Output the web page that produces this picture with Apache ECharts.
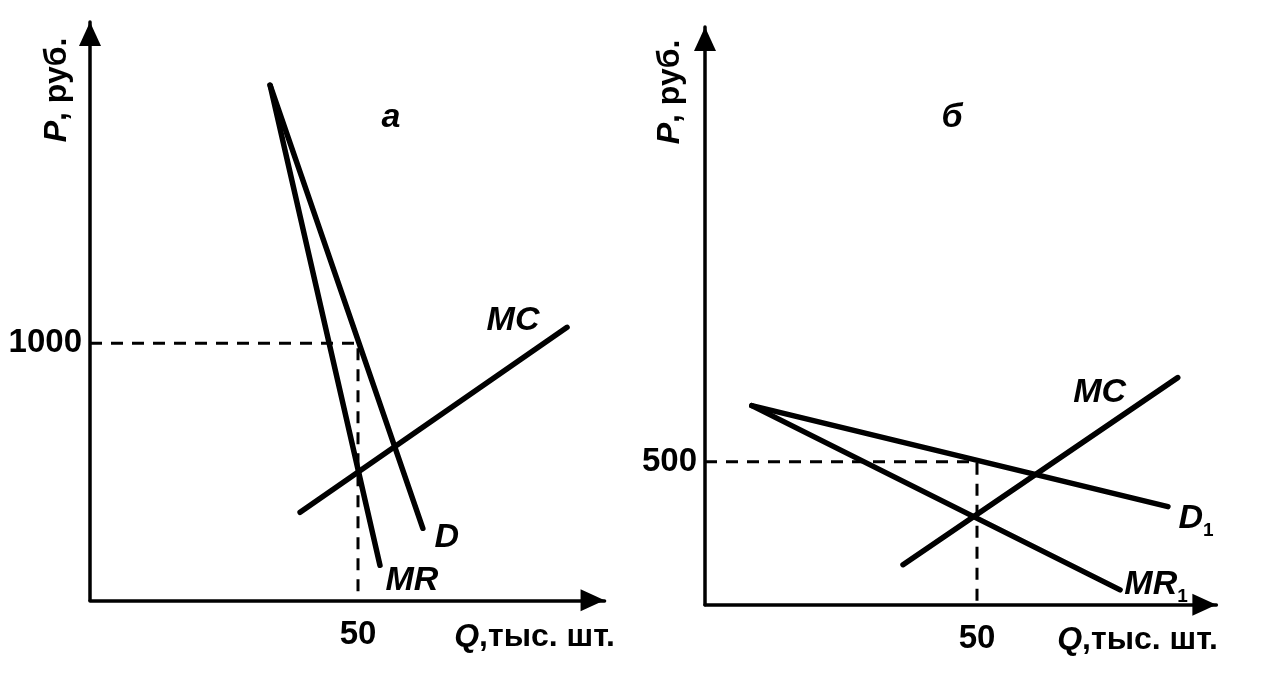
<!DOCTYPE html>
<html>
<head>
<meta charset="utf-8">
<script src="https://cdn.jsdelivr.net/npm/echarts@6/dist/echarts.min.js"></script>
<style>html,body{margin:0;padding:0;background:#fff;}#c{width:1287px;height:693px;}</style>
</head>
<body>
<div id="c"></div>
<script>
// ---- Panel a ----
const demandA = [[33.6, 2004], [62.1, 280]];
const mrA = [[33.6, 2004], [54.1, 136]];
const mcA = [[39.2, 342], [89.0, 1062]];
const guideA = [[0, 1000], [50, 1000], [50, 0]];
const xTickA = 50, yTickA = 1000;
// ---- Panel б ----
const demandB = [[8.6, 696], [85.1, 343]];
const mrB = [[8.6, 696], [76.3, 52]];
const mcB = [[36.4, 140], [86.9, 794]];
const guideB = [[0, 500], [50, 500], [50, 0]];
const xTickB = 50, yTickB = 500;

const FONT = '"Liberation Sans", Arial, sans-serif';
const black = '#000';

function axisCommon(tick, margin) {
  return {
    type: 'value',
    min: 0,
    interval: tick,
    splitLine: { show: false },
    axisTick: { show: false },
    axisLine: { show: true, lineStyle: { color: black, width: 3.5 }, symbol: ['none', 'triangle'], symbolSize: [22, 24], symbolOffset: [0, -12] },
    axisLabel: {
      color: black, fontFamily: FONT, fontWeight: 'bold', fontSize: 33, margin,
      formatter: v => (v === tick ? String(v) : '')
    }
  };
}

const curveStyle = { color: black, width: 5.5, cap: 'round', join: 'round' };
function curve(name, data, xi, label, offset) {
  return {
    type: 'line', name, data, xAxisIndex: xi, yAxisIndex: xi,
    symbol: 'none', silent: true, animation: false,
    lineStyle: curveStyle,
    endLabel: {
      show: true, formatter: label, distance: 0, offset,
      align: 'center', verticalAlign: 'middle',
      rich: {
        m: { fontFamily: FONT, fontSize: 34, fontWeight: 'bold', fontStyle: 'italic', color: black },
        s: { fontFamily: FONT, fontSize: 19, fontWeight: 'bold', color: black, padding: [24, 0, 0, 0] }
      }
    }
  };
}
function guide(data, xi) {
  return {
    type: 'line', data, xAxisIndex: xi, yAxisIndex: xi, symbol: 'none', silent: true, animation: false,
    lineStyle: { color: black, width: 3, type: [12, 9] }
  };
}

const nameRich = {
  i: { fontFamily: FONT, fontSize: 32, fontWeight: 'bold', fontStyle: 'italic', fill: black },
  n: { fontFamily: FONT, fontSize: 32, fontWeight: 'bold', fill: black }
};
function nameText(x, y, text, rot, align) {
  return { type: 'text', x, y, rotation: rot, style: { text, rich: nameRich, align, verticalAlign: 'middle', fill: black } };
}

const option = {
  backgroundColor: '#fff',
  animation: false,
  grid: [
    { left: 90, top: 22, width: 96 * 5.36, height: 2250 * 0.257 },
    { left: 705, top: 27, width: 94 * 5.44, height: 2020 * 0.286 }
  ],
  xAxis: [
    Object.assign(axisCommon(xTickA, 18), { gridIndex: 0, max: 96 }),
    Object.assign(axisCommon(xTickB, 18), { gridIndex: 1, max: 94 })
  ],
  yAxis: [
    Object.assign(axisCommon(yTickA, 8), { gridIndex: 0, max: 2250 }),
    Object.assign(axisCommon(yTickB, 8), { gridIndex: 1, max: 2020 })
  ],
  series: [
    guide(guideA, 0),
    curve('D', demandA, 0, '{m|D}', [24, 9]),
    curve('MR', mrA, 0, '{m|MR}', [32, 15]),
    curve('MC', mcA, 0, '{m|MC}', [-54, -7]),
    guide(guideB, 1),
    curve('D1', demandB, 1, '{m|D}{s|1}', [28, 12]),
    curve('MR1', mrB, 1, '{m|MR}{s|1}', [36, -5]),
    curve('MC1', mcB, 1, '{m|MC}', [-78, 15])
  ],
  graphic: [
    { type: 'text', x: 391, y: 118, style: { text: 'a', font: 'italic bold 34px ' + FONT, fill: black, align: 'center', verticalAlign: 'middle' } },
    { type: 'text', x: 952, y: 118, style: { text: 'б', font: 'italic bold 34px ' + FONT, fill: black, align: 'center', verticalAlign: 'middle' } },
    nameText(57, 90, '{i|P}{n|, руб.}', Math.PI / 2, 'center'),
    nameText(670, 92, '{i|P}{n|, руб.}', Math.PI / 2, 'center'),
    nameText(615, 637, '{i|Q}{n|,тыс. шт.}', 0, 'right'),
    nameText(1218, 640, '{i|Q}{n|,тыс. шт.}', 0, 'right')
  ]
};
const chart = echarts.init(document.getElementById('c'), null, { renderer: 'canvas' });
chart.setOption(option);
</script>
</body>
</html>
